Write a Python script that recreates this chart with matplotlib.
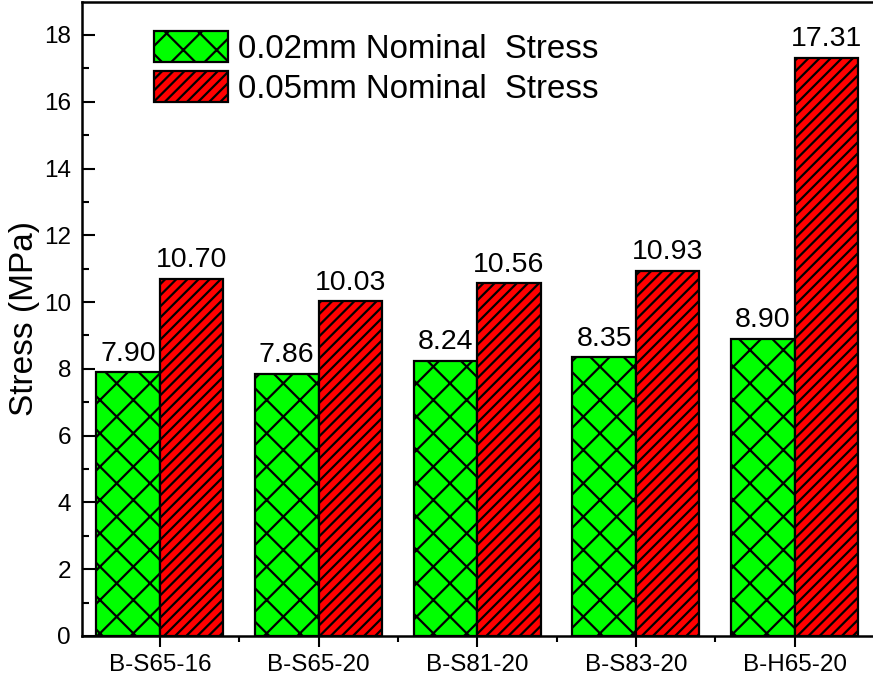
import matplotlib
matplotlib.use("Agg")
import matplotlib.pyplot as plt
import numpy as np

categories = ["B-S65-16", "B-S65-20", "B-S81-20", "B-S83-20", "B-H65-20"]
stress_002 = [7.90, 7.86, 8.24, 8.35, 8.90]
stress_005 = [10.70, 10.03, 10.56, 10.93, 17.31]
series_labels = ["0.02mm Nominal  Stress", "0.05mm Nominal  Stress"]
yticks = [0, 2, 4, 6, 8, 10, 12, 14, 16, 18]

plt.rcParams['font.family'] = ['Liberation Sans', 'DejaVu Sans']
plt.rcParams['hatch.linewidth'] = 1.6

W, H = 873, 678
fig = plt.figure(figsize=(W / 100, H / 100), dpi=100)
ax = fig.add_axes([82 / W, (H - 636) / H, (874.1 - 82) / W, 634.4 / H])

x = np.arange(len(categories))
bw = 0.4
b1 = ax.bar(x - bw / 2, stress_002, bw, color="#00ff00", edgecolor="black",
            linewidth=1.6, hatch="x", label=series_labels[0], zorder=2)
b2 = ax.bar(x + bw / 2, stress_005, bw, color="#ff0000", edgecolor="black",
            linewidth=1.6, hatch="///", label=series_labels[1], zorder=2)

for bars, vals in ((b1, stress_002), (b2, stress_005)):
    for r, v in zip(bars, vals):
        ax.annotate(f"{v:.2f}", (r.get_x() + r.get_width() / 2, v),
                    xytext=(0, 4), textcoords="offset points",
                    ha="center", va="bottom", fontsize=20.5)

ax.set_xlim(-0.49, 4.5)
ax.set_ylim(0, 19)
ax.set_xticks(x)
ax.set_xticklabels(categories, fontsize=17.5)
ax.set_xticks(x[:-1] + 0.5, minor=True)
ax.set_yticks(yticks)
ax.set_yticklabels([str(t) for t in yticks], fontsize=17.5)
ax.set_yticks(np.arange(1, 19, 2), minor=True)
ax.tick_params(axis="y", which="major", direction="in", length=9, width=1.5, pad=8)
ax.tick_params(axis="y", which="minor", direction="in", length=5, width=1.5)
ax.tick_params(axis="x", which="major", direction="out", length=8, width=1.5, pad=5)
ax.tick_params(axis="x", which="minor", direction="out", length=4, width=1.5)
for s in ax.spines.values():
    s.set_linewidth(1.8)
ax.set_ylabel("Stress (MPa)", fontsize=24, labelpad=3)

fig.legend(handles=[b1, b2], labels=series_labels, loc="upper left",
           bbox_to_anchor=(154 / W, 1 - 31 / H), frameon=False, fontsize=23.8,
           borderpad=0, borderaxespad=0, handlelength=2.24, handleheight=1.05,
           handletextpad=0.3, labelspacing=0.2)

fig.savefig("out.png", dpi=100)
